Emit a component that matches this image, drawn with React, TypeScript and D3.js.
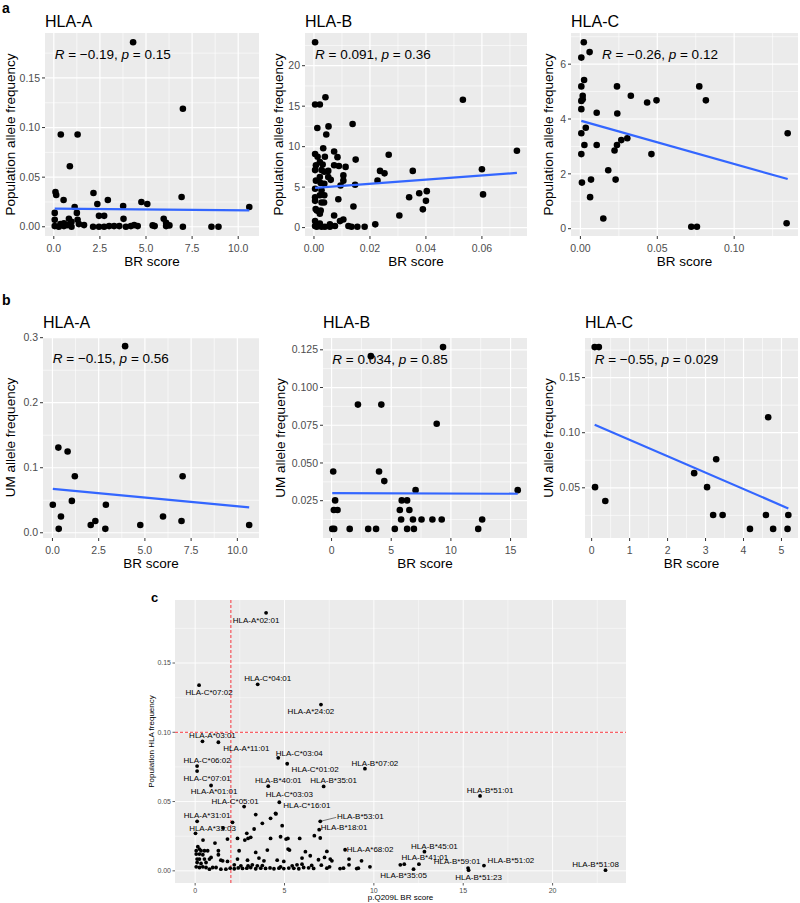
import React from "react";
import * as d3 from "d3";

type Pt = [number, number];

// ---------- Panel a: population allele frequency vs BR score ----------
const popA: Pt[] = [
  [4.3, 0.186], [7.0, 0.119], [0.38, 0.093], [1.29, 0.093], [0.87, 0.061], [0.09, 0.035], [0.13, 0.032],
  [0.53, 0.027], [2.15, 0.034], [2.93, 0.027], [2.36, 0.023], [1.13, 0.020], [1.25, 0.014], [0.05, 0.014],
  [3.76, 0.021], [4.75, 0.025], [5.07, 0.023], [6.93, 0.030], [10.6, 0.020], [2.45, 0.011], [2.73, 0.011],
  [1.29, 0.007], [0.82, 0.008], [3.78, 0.008], [5.96, 0.008], [0.05, 0.007],
  [0.05, 0.0007], [0.27, 0], [0.55, 0.0007], [0.73, 0.0017], [0.96, 0], [1.64, 0.0017], [2.13, 0], [2.45, 0],
  [2.73, 0], [3.0, 0.0007], [3.27, 0.0007], [3.55, 0.0007], [3.91, 0], [4.18, 0.0007], [4.36, 0.0017],
  [4.55, 0.0007], [5.36, 0.0014], [5.47, 0.0007], [6.09, 0.0007], [6.27, 0.0014], [7.0, 0], [8.55, 0],
  [8.93, 0], [0.96, 0.005], [0.55, 0.0034], [0.36, 0.0027], [1.36, 0.0027], [6.09, 0.004],
];
const popB: Pt[] = [
  [0.0004, 22.9], [0.0004, 15.2], [0.0021, 15.2], [0.0041, 16.1], [0.0012, 12.3], [0.0052, 12.5], [0.0044, 11.5],
  [0.0138, 12.8], [0.0532, 15.8], [0.0725, 9.5], [0.06, 7.2], [0.0604, 4.1], [0.0267, 9.0], [0.0353, 7.0],
  [0.0236, 7.0], [0.0252, 6.7], [0.0227, 5.8], [0.0219, 0.4], [0.0305, 1.5], [0.034, 3.75], [0.0376, 4.25],
  [0.0403, 4.5], [0.04, 3.3], [0.0389, 2.25], [0.0149, 8.4], [0.0147, 5.3], [0.0141, 2.6], [0.0123, 0.2],
  [0.0134, 0.1], [0.0155, 0.1], [0.0181, 0.1], [0.0113, 7.5], [0.0105, 6.45], [0.0105, 5.8], [0.0095, 5.2],
  [0.0089, 7.6], [0.0084, 8.7], [0.0072, 9.4], [0.0072, 7.7], [0.006, 5.9], [0.0087, 3.5], [0.0072, 1.5],
  [0.0093, 0.8], [0.0105, 1.0], [0.0075, 0.2], [0.0057, 0.4], [0.0039, 8.75], [0.0033, 9.8],
  [0.0004, 9.1], [0.0007, 7.7], [0.0004, 7.1], [0.0007, 5.8], [0.0004, 4.8], [0.0004, 3.75], [0.0004, 3.3],
  [0.0006, 2.3], [0.001, 2.1], [0.0004, 0.8], [0.0004, 0.2], [0.001, 0.1], [0.0021, 8.1], [0.0027, 7.1],
  [0.0021, 6.25], [0.0024, 5.5], [0.0027, 4.6], [0.0021, 4.0], [0.0027, 3.1], [0.0024, 2.1], [0.0021, 1.7],
  [0.0021, 0.5], [0.0027, 0.1], [0.0037, 6.9], [0.0037, 5.4], [0.0037, 4.0], [0.0036, 3.1], [0.0039, 0.1],
  [0.0051, 7.0], [0.0051, 6.25], [0.0057, 0.1], [0.0013, 8.75], [0.0031, 7.8],
];
const popC: Pt[] = [
  [0.0022, 6.8], [0.0006, 6.24], [0.006, 6.44], [0.0024, 5.42], [0.0006, 5.19], [0.0015, 4.85], [0.0015, 4.72],
  [0.0006, 4.66], [0.0006, 4.36], [0.0106, 4.23], [0.0238, 5.19], [0.024, 4.2], [0.0328, 4.85], [0.0434, 4.6],
  [0.0495, 4.68], [0.0773, 5.19], [0.0816, 4.68], [0.1348, 3.48], [0.0035, 3.68], [0.0006, 3.48], [0.0026, 3.05],
  [0.0106, 3.05], [0.0006, 2.72], [0.0266, 3.23], [0.0305, 3.3], [0.0238, 3.05], [0.0222, 2.85], [0.0462, 2.72],
  [0.0181, 2.13], [0.0069, 1.79], [0.0229, 1.79], [0.001, 1.68], [0.0063, 1.15], [0.0149, 0.37], [0.0721, 0.07],
  [0.0758, 0.07], [0.1341, 0.2],
];

// ---------- Panel b: UM allele frequency vs BR score ----------
const umA: Pt[] = [
  [3.93, 0.287], [0.32, 0.131], [0.82, 0.125], [1.21, 0.087], [7.04, 0.087], [1.05, 0.049], [0.02, 0.043],
  [2.89, 0.043], [0.46, 0.025], [5.98, 0.025], [2.32, 0.018], [6.98, 0.018], [2.07, 0.012], [4.75, 0.012],
  [10.64, 0.012], [0.34, 0.006], [2.86, 0.006],
];
const umB: Pt[] = [
  [3.29, 0.1208], [9.34, 0.1268], [2.21, 0.0887], [4.17, 0.0887], [8.81, 0.076], [0.14, 0.0443], [3.98, 0.0443],
  [4.42, 0.038], [7.04, 0.032], [15.6, 0.032], [0.3, 0.0252], [5.88, 0.0252], [6.33, 0.0252], [0.19, 0.0188],
  [0.5, 0.0188], [5.72, 0.0188], [6.52, 0.0188], [5.83, 0.0125], [6.82, 0.0125], [7.54, 0.0125], [8.45, 0.0125],
  [9.23, 0.0125], [12.62, 0.0125], [0.06, 0.0063], [0.22, 0.0063], [1.52, 0.0063], [3.07, 0.0063], [3.73, 0.0063],
  [5.3, 0.0063], [6.33, 0.0063], [6.9, 0.0063], [12.29, 0.0063],
];
const umC: Pt[] = [
  [0.08, 0.1777], [0.19, 0.1777], [4.65, 0.114], [3.28, 0.0759], [2.7, 0.0633], [0.09, 0.0506], [3.04, 0.0506],
  [0.36, 0.038], [3.2, 0.0253], [3.45, 0.0253], [4.59, 0.0253], [5.18, 0.0253], [4.17, 0.0127], [4.78, 0.0127],
  [5.16, 0.0127],
];

// fitted regression lines (start / end, in data units)
const fitPopA: Pt[] = [[0.05, 0.0182], [10.6, 0.0165]];
const fitPopB: Pt[] = [[0.0004, 4.9], [0.0725, 6.75]];
const fitPopC: Pt[] = [[0.0006, 3.93], [0.1348, 1.81]];
const fitUmA: Pt[] = [[0.02, 0.0675], [10.64, 0.039]];
const fitUmB: Pt[] = [[0.06, 0.03], [15.6, 0.0296]];
const fitUmC: Pt[] = [[0.08, 0.1072], [5.18, 0.0313]];

// correlation stats [R, p] and label x (data units)
const statPopA = ["\u22120.19", "0.15"];
const statPopB = ["0.091", "0.36"];
const statPopC = ["\u22120.26", "0.12"];
const statUmA = ["\u22120.15", "0.56"];
const statUmB = ["0.034", "0.85"];
const statUmC = ["\u22120.55", "0.029"];
const statXs = [0.05, 0.0004, 0.014, 0.02, 0.06, 0.08];

// tick values
const ticksA_x = [0, 2.5, 5, 7.5, 10];
const ticksPopA_y = [0, 0.05, 0.1, 0.15];
const ticksPopB_x = [0, 0.02, 0.04, 0.06];
const ticksPopB_y = [0, 5, 10, 15, 20];
const ticksPopC_x = [0, 0.05, 0.1];
const ticksPopC_y = [0, 2, 4, 6];
const ticksUmA_y = [0, 0.1, 0.2, 0.3];
const ticksUmB_x = [0, 5, 10, 15];
const ticksUmB_y = [0.025, 0.05, 0.075, 0.1, 0.125];
const ticksUmC_x = [0, 1, 2, 3, 4, 5];
const ticksUmC_y = [0.05, 0.1, 0.15];

// ---------- Panel c ----------
const labeledNames = [
  "HLA-A*02:01", "HLA-C*04:01", "HLA-C*07:02", "HLA-A*24:02", "HLA-A*03:01", "HLA-A*11:01", "HLA-C*03:04",
  "HLA-C*01:02", "HLA-B*07:02", "HLA-C*06:02", "HLA-C*07:01", "HLA-A*01:01", "HLA-B*40:01", "HLA-B*35:01",
  "HLA-C*03:03", "HLA-C*16:01", "HLA-C*05:01", "HLA-A*31:01", "HLA-A*33:03", "HLA-B*53:01", "HLA-B*18:01",
  "HLA-A*68:02", "HLA-B*45:01", "HLA-B*41:01", "HLA-B*35:05", "HLA-B*59:01", "HLA-B*51:23", "HLA-B*51:02",
  "HLA-B*51:01", "HLA-B*51:08",
];
const labeledBR = [
  3.97, 3.5, 0.22, 7.04, 0.41, 1.3, 4.65, 5.15, 9.5, 0.11, 0.11, 0.89, 4.09, 7.19, 4.71, 4.52, 2.74, 0.11, 0.02,
  7.0, 6.94, 8.39, 12.83, 12.52, 12.22, 15.27, 15.3, 16.16, 15.94, 22.96,
];
const labeledFreq = [
  0.1862, 0.1346, 0.134, 0.12, 0.0935, 0.0928, 0.0816, 0.0773, 0.0737, 0.0756, 0.072, 0.0616, 0.0611, 0.0609,
  0.0495, 0.0411, 0.0464, 0.0357, 0.0271, 0.0357, 0.0297, 0.0152, 0.0138, 0.0048, 0.0012, 0.002, 0.0005, 0.0038,
  0.0541, 0.0005,
];
const otherAlleles: Pt[] = [
  [0.44, 0.0222], [0.15, 0.0174], [0.24, 0.0157], [0.06, 0.0145], [0.33, 0.0145], [0.52, 0.0145], [0.06, 0.0121],
  [0.24, 0.0121], [0.43, 0.0116], [0.7, 0.0145], [0.11, 0.0085], [0.24, 0.0085], [0.52, 0.0085], [0.8, 0.0085],
  [0.11, 0.006], [0.33, 0.0053], [0.61, 0.006], [0.06, 0.0029], [0.24, 0.0024], [0.43, 0.0029], [0.61, 0.0024],
  [0.8, 0.0012], [0.98, 0.0024], [0.89, 0.0097], [1.11, 0.02], [1.3, 0.0145], [1.3, 0.0116], [1.44, 0.0077],
  [1.54, 0.0072], [1.17, 0.0024], [1.44, 0.0012], [1.72, 0.0012], [1.56, 0.0309], [1.81, 0.0229], [1.81, 0.0068],
  [2.09, 0.035], [2.37, 0.0234], [2.78, 0.0222], [2.89, 0.0271], [2.96, 0.0234], [3.11, 0.0242], [3.3, 0.0302],
  [3.39, 0.0406], [3.76, 0.0343], [4.22, 0.0379], [4.5, 0.0415], [4.22, 0.0234], [4.78, 0.0246], [4.87, 0.0326],
  [5.09, 0.0229], [5.19, 0.0234], [5.85, 0.0234], [5.2, 0.0157], [6.67, 0.0254], [7.0, 0.0237], [7.24, 0.0097],
  [7.56, 0.0085], [7.65, 0.0072], [8.61, 0.0085], [9.31, 0.0072], [9.78, 0.0029], [8.61, 0.0043], [11.48, 0.0043],
  [11.7, 0.0048],
  [1.96, 0.0019], [2.19, 0.0015], [2.41, 0.0021], [2.65, 0.0017], [2.89, 0.0019], [3.11, 0.0024], [3.39, 0.0015],
  [3.67, 0.0019], [3.94, 0.0017], [4.19, 0.0021], [4.41, 0.0015], [4.69, 0.0019], [4.96, 0.0016], [5.24, 0.002],
  [5.52, 0.0018], [5.8, 0.0015], [6.07, 0.0024], [6.35, 0.0022], [6.63, 0.0017], [7.37, 0.0019], [8.11, 0.0016],
  [8.3, 0.0019], [9.04, 0.0016], [9.13, 0.0019],
  [2.19, 0.0043], [2.56, 0.0036], [2.96, 0.0036], [3.2, 0.0043], [3.48, 0.0036], [3.76, 0.0038], [4.78, 0.0029],
  [5.43, 0.0036], [5.7, 0.0043], [5.98, 0.0048], [6.52, 0.0039], [7.06, 0.0041], [7.52, 0.0029],
  [2.37, 0.0085], [2.93, 0.0077], [3.57, 0.0092], [3.85, 0.0072], [4.59, 0.0077], [4.96, 0.0068], [5.98, 0.0092],
  [6.44, 0.0109], [6.9, 0.008],
  [2.46, 0.0145], [3.39, 0.0133], [4.04, 0.015], [5.28, 0.015], [6.17, 0.0138], [7.37, 0.014],
];
const ticksC_x = [0, 5, 10, 15, 20];
const ticksC_y = [0, 0.05, 0.1, 0.15];
const cutBR = 2;
const cutFreq = 0.1;

// ---------- layout (pixels) ----------
const FONT = "'Liberation Sans', Arial, Helvetica, sans-serif";
type Box = { left: number; right: number; top: number; bottom: number; titleY: number; yTitleX: number };
const boxes: Box[] = [
  { left: 45, right: 259, top: 33, bottom: 236, titleY: 27, yTitleX: 10 },
  { left: 305, right: 527, top: 33, bottom: 236, titleY: 27, yTitleX: 278 },
  { left: 571, right: 798, top: 33, bottom: 236, titleY: 27, yTitleX: 548 },
  { left: 43, right: 259, top: 337, bottom: 538, titleY: 328, yTitleX: 10 },
  { left: 323, right: 527, top: 338, bottom: 538, titleY: 328, yTitleX: 280 },
  { left: 585, right: 798, top: 338, bottom: 538, titleY: 328, yTitleX: 548 },
];
const boxC = { left: 175, right: 626, top: 600, bottom: 883 };
// label nudges (px) for panel c: [dx, dy, leader]
const nudges: [number, number, number][] = [
  [-10, 7, 0], [10, -6, 0], [10, 7, 0], [-10, 7, 0], [10, -6, 0], [28, 6, 0], [21, -5, 0], [28, 5, 0], [10, -6, 0],
  [10, -6, 0], [10, 7, 0], [3, 6, 0], [10, -6, 0], [10, -6, 0], [10, -8, 0], [31, -9, 0], [-9, -5, 0], [10, -6, 0],
  [17, -5, 0], [40, -5, 1], [25, -2, 0], [25, -1, 0], [10, -6, 0], [6, -7, 0], [-10, 6, 0], [-11, -7, 0], [10, 7, 0],
  [27, -5, 0], [10, -6, 0], [-10, -6, 0],
];

function expandDomain(vals: number[]): [number, number] {
  const [a, b] = d3.extent(vals) as [number, number];
  const p = (b - a) * 0.05;
  return [a - p, b + p];
}
function minorTicks(ticks: number[], dom: [number, number]): number[] {
  const step = ticks[1] - ticks[0];
  const out: number[] = [];
  for (let i = -1; i <= ticks.length; i++) {
    const v = ticks[0] + step * (i + 0.5);
    if (v >= dom[0] && v <= dom[1]) out.push(v);
  }
  return out;
}

type ScatterProps = {
  pts: Pt[]; fit: Pt[]; stat: string[]; statX: number; xTicks: number[]; yTicks: number[];
  xDig: number; yDig: number; title: string; yTitle: string; L: Box;
};

function Scatter({ pts, fit, stat, statX, xTicks, yTicks, xDig, yDig, title, yTitle, L }: ScatterProps) {
  const xd = expandDomain(pts.map((d) => d[0]));
  const yd = expandDomain(pts.map((d) => d[1]));
  const x = d3.scaleLinear().domain(xd).range([L.left, L.right]);
  const y = d3.scaleLinear().domain(yd).range([L.bottom, L.top]);
  const line = d3.line<Pt>().x((d) => x(d[0])).y((d) => y(d[1]));
  const xm = minorTicks(xTicks, xd);
  const ym = minorTicks(yTicks, yd);
  const midY = (L.top + L.bottom) / 2;
  return (
    <g>
      <rect x={L.left} y={L.top} width={L.right - L.left} height={L.bottom - L.top} fill="#EBEBEB" />
      {xm.map((v, i) => (
        <line key={"xm" + i} x1={x(v)} x2={x(v)} y1={L.top} y2={L.bottom} stroke="#fff" strokeWidth={0.6} />
      ))}
      {ym.map((v, i) => (
        <line key={"ym" + i} y1={y(v)} y2={y(v)} x1={L.left} x2={L.right} stroke="#fff" strokeWidth={0.6} />
      ))}
      {xTicks.map((v, i) => (
        <line key={"xM" + i} x1={x(v)} x2={x(v)} y1={L.top} y2={L.bottom} stroke="#fff" strokeWidth={1.2} />
      ))}
      {yTicks.map((v, i) => (
        <line key={"yM" + i} y1={y(v)} y2={y(v)} x1={L.left} x2={L.right} stroke="#fff" strokeWidth={1.2} />
      ))}
      {xTicks.map((v, i) => (
        <g key={"xt" + i}>
          <line x1={x(v)} x2={x(v)} y1={L.bottom} y2={L.bottom + 3} stroke="#333" strokeWidth={1} />
          <text x={x(v)} y={L.bottom + 16} textAnchor="middle" fontSize={10.5} fill="#4D4D4D">
            {v.toFixed(xDig)}
          </text>
        </g>
      ))}
      {yTicks.map((v, i) => (
        <g key={"yt" + i}>
          <line x1={L.left - 3} x2={L.left} y1={y(v)} y2={y(v)} stroke="#333" strokeWidth={1} />
          <text x={L.left - 5} y={y(v)} dy="0.35em" textAnchor="end" fontSize={10.5} fill="#4D4D4D">
            {v.toFixed(yDig)}
          </text>
        </g>
      ))}
      {pts.map((d, i) => (
        <circle key={"p" + i} cx={x(d[0])} cy={y(d[1])} r={3.3} fill="#000" />
      ))}
      <path d={line(fit) || ""} stroke="#3366FF" strokeWidth={2.2} fill="none" />
      <text x={x(statX)} y={L.top + 21} dy="0.35em" fontSize={13.5} fill="#000">
        <tspan fontStyle="italic">R</tspan>
        {" = " + stat[0] + ", "}
        <tspan fontStyle="italic">p</tspan>
        {" = " + stat[1]}
      </text>
      <text x={L.left} y={L.titleY} fontSize={16} fill="#000">{title}</text>
      <text x={(L.left + L.right) / 2} y={L.bottom + 30} textAnchor="middle" fontSize={13.5} fill="#000">
        BR score
      </text>
      <text
        transform={`translate(${L.yTitleX},${midY}) rotate(-90)`}
        textAnchor="middle"
        dy="0.35em"
        fontSize={13.5}
        fill="#000"
      >
        {yTitle}
      </text>
    </g>
  );
}

function PanelC() {
  const L = boxC;
  const allBR = labeledBR.concat(otherAlleles.map((d) => d[0]));
  const allF = labeledFreq.concat(otherAlleles.map((d) => d[1]));
  const xd = expandDomain(allBR);
  const yd = expandDomain(allF);
  const x = d3.scaleLinear().domain(xd).range([L.left, L.right]);
  const y = d3.scaleLinear().domain(yd).range([L.bottom, L.top]);
  const xm = minorTicks(ticksC_x, xd);
  const ym = minorTicks(ticksC_y, yd);
  return (
    <g>
      <rect x={L.left} y={L.top} width={L.right - L.left} height={L.bottom - L.top} fill="#EBEBEB" />
      {xm.map((v, i) => (
        <line key={"xm" + i} x1={x(v)} x2={x(v)} y1={L.top} y2={L.bottom} stroke="#fff" strokeWidth={0.45} />
      ))}
      {ym.map((v, i) => (
        <line key={"ym" + i} y1={y(v)} y2={y(v)} x1={L.left} x2={L.right} stroke="#fff" strokeWidth={0.45} />
      ))}
      {ticksC_x.map((v, i) => (
        <line key={"xM" + i} x1={x(v)} x2={x(v)} y1={L.top} y2={L.bottom} stroke="#fff" strokeWidth={0.9} />
      ))}
      {ticksC_y.map((v, i) => (
        <line key={"yM" + i} y1={y(v)} y2={y(v)} x1={L.left} x2={L.right} stroke="#fff" strokeWidth={0.9} />
      ))}
      {ticksC_x.map((v, i) => (
        <g key={"xt" + i}>
          <line x1={x(v)} x2={x(v)} y1={L.bottom} y2={L.bottom + 2.5} stroke="#333" strokeWidth={0.8} />
          <text x={x(v)} y={L.bottom + 10} textAnchor="middle" fontSize={7} fill="#4D4D4D">{v}</text>
        </g>
      ))}
      {ticksC_y.map((v, i) => (
        <g key={"yt" + i}>
          <line x1={L.left - 2.5} x2={L.left} y1={y(v)} y2={y(v)} stroke="#333" strokeWidth={0.8} />
          <text x={L.left - 4} y={y(v)} dy="0.35em" textAnchor="end" fontSize={7} fill="#4D4D4D">
            {v.toFixed(2)}
          </text>
        </g>
      ))}
      <line x1={x(cutBR)} x2={x(cutBR)} y1={L.top} y2={L.bottom} stroke="#F8222B" strokeWidth={0.9} strokeDasharray="3,2" />
      <line y1={y(cutFreq)} y2={y(cutFreq)} x1={L.left} x2={L.right} stroke="#F8222B" strokeWidth={0.9} strokeDasharray="3,2" />
      {otherAlleles.map((d, i) => (
        <circle key={"o" + i} cx={x(d[0])} cy={y(d[1])} r={1.9} fill="#000" />
      ))}
      {labeledNames.map((n, i) => {
        const px = x(labeledBR[i]);
        const py = y(labeledFreq[i]);
        const [dx, dy, leader] = nudges[i];
        return (
          <g key={"l" + i}>
            <circle cx={px} cy={py} r={1.9} fill="#000" />
            {leader ? (
              <line x1={px} y1={py} x2={px + dx - 24} y2={py + dy + 1} stroke="#000" strokeWidth={0.5} />
            ) : null}
            <text x={px + dx} y={py + dy} dy="0.35em" textAnchor="middle" fontSize={8} fill="#000">
              {n}
            </text>
          </g>
        );
      })}
      <text x={(L.left + L.right) / 2} y={L.bottom + 17} textAnchor="middle" fontSize={8} fill="#000">
        p.Q209L BR score
      </text>
      <text
        transform={`translate(151.5,${(L.top + L.bottom) / 2}) rotate(-90)`}
        textAnchor="middle"
        dy="0.35em"
        fontSize={8}
        fill="#000"
      >
        Population HLA frequency
      </text>
    </g>
  );
}

export default function App() {
  return (
    <svg
      width={800}
      height={903}
      viewBox="0 0 800 903"
      style={{ position: "absolute", left: 0, top: 0, background: "#fff" }}
      fontFamily={FONT}
    >
      <rect x={0} y={0} width={800} height={903} fill="#fff" />
      <text x={2} y={12.5} fontSize={14} fontWeight="bold">a</text>
      <text x={2} y={305} fontSize={14} fontWeight="bold">b</text>
      <text x={151} y={602} fontSize={13} fontWeight="bold">c</text>
      <Scatter pts={popA} fit={fitPopA} stat={statPopA} statX={statXs[0]} xTicks={ticksA_x} yTicks={ticksPopA_y}
        xDig={1} yDig={2} title="HLA-A" yTitle="Population allele frequency" L={boxes[0]} />
      <Scatter pts={popB} fit={fitPopB} stat={statPopB} statX={statXs[1]} xTicks={ticksPopB_x} yTicks={ticksPopB_y}
        xDig={2} yDig={0} title="HLA-B" yTitle="Population allele frequency" L={boxes[1]} />
      <Scatter pts={popC} fit={fitPopC} stat={statPopC} statX={statXs[2]} xTicks={ticksPopC_x} yTicks={ticksPopC_y}
        xDig={2} yDig={0} title="HLA-C" yTitle="Population allele frequency" L={boxes[2]} />
      <Scatter pts={umA} fit={fitUmA} stat={statUmA} statX={statXs[3]} xTicks={ticksA_x} yTicks={ticksUmA_y}
        xDig={1} yDig={1} title="HLA-A" yTitle="UM allele frequency" L={boxes[3]} />
      <Scatter pts={umB} fit={fitUmB} stat={statUmB} statX={statXs[4]} xTicks={ticksUmB_x} yTicks={ticksUmB_y}
        xDig={0} yDig={3} title="HLA-B" yTitle="UM allele frequency" L={boxes[4]} />
      <Scatter pts={umC} fit={fitUmC} stat={statUmC} statX={statXs[5]} xTicks={ticksUmC_x} yTicks={ticksUmC_y}
        xDig={0} yDig={2} title="HLA-C" yTitle="UM allele frequency" L={boxes[5]} />
      <PanelC />
    </svg>
  );
}
